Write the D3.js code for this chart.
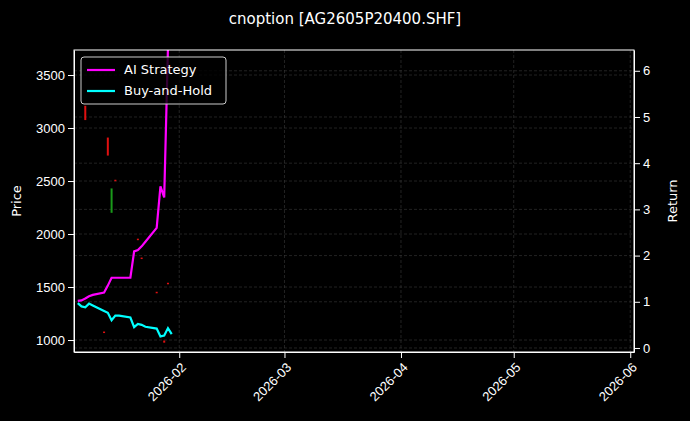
<!DOCTYPE html>
<html><head><meta charset="utf-8">
<script src="https://cdn.jsdelivr.net/npm/d3@7"></script>
<style>body{margin:0;background:#000}svg{font-family:"DejaVu Sans",sans-serif}</style>
</head><body><svg id="chart" width="690" height="421"></svg>
<script>
// datos
const days = ["2026-01-05","2026-01-06","2026-01-07","2026-01-08","2026-01-09","2026-01-12","2026-01-13","2026-01-14","2026-01-15","2026-01-16",
  "2026-01-19","2026-01-20","2026-01-21","2026-01-22","2026-01-23","2026-01-26","2026-01-27","2026-01-28","2026-01-29","2026-01-30"];
const aiReturn = [1.02,1.03,1.07,1.12,1.15,1.20,1.35,1.52,1.52,1.52,1.52,2.09,2.12,2.20,2.30,2.60,3.50,3.26,6.50,8.00];
const bhReturn = [0.97,0.90,0.88,0.96,0.92,0.80,0.76,0.60,0.70,0.70,0.66,0.45,0.52,0.50,0.46,0.42,0.25,0.27,0.43,0.30];
// velas: fecha, apertura, cierre
const candleDates = ["2026-01-07","2026-01-13","2026-01-14","2026-01-12","2026-01-15","2026-01-22","2026-01-21","2026-01-29","2026-01-26","2026-01-28"];
const candleOpen  = [3210,2910,2200,1080,2512,1778,1956,1540,1455,995];
const candleClose = [3075,2740,2430,1070,2505,1770,1950,1535,1450,975];
const priceTicks = [1000,1500,2000,2500,3000,3500];
const returnTicks = [0,1,2,3,4,5,6];
const monthTicks = ["2026-02-01","2026-03-01","2026-04-01","2026-05-01","2026-06-01"];

const parse = d3.timeParse("%Y-%m-%d");
const svg = d3.select("#chart");
const m = {l:74, r:634, t:50, b:352};

const x = d3.scaleTime().domain([parse("2026-01-04"), parse("2026-06-02")]).range([m.l, m.r]);
const yP = d3.scaleLinear().domain([887, 3736]).range([m.b, m.t]);
const yR = d3.scaleLinear().domain([-0.087, 6.45]).range([m.b, m.t]);

// rejilla
const grid = svg.append("g").attr("stroke","#444").attr("stroke-dasharray","3,2").attr("stroke-width",0.5);
monthTicks.forEach(t => grid.append("line").attr("x1",x(parse(t))).attr("x2",x(parse(t))).attr("y1",m.t).attr("y2",m.b));
priceTicks.forEach(t => grid.append("line").attr("x1",m.l).attr("x2",m.r).attr("y1",yP(t)).attr("y2",yP(t)));
returnTicks.forEach(t => grid.append("line").attr("x1",m.l).attr("x2",m.r).attr("y1",yR(t)).attr("y2",yR(t)));

svg.append("clipPath").attr("id","clip").append("rect").attr("x",m.l).attr("y",m.t).attr("width",m.r-m.l).attr("height",m.b-m.t);
const plot = svg.append("g").attr("clip-path","url(#clip)");

// velas
candleDates.forEach((d,i) => {
  const o = candleOpen[i], c = candleClose[i];
  plot.append("rect").attr("x", x(parse(d)) - 1).attr("width", 2)
    .attr("y", yP(Math.max(o,c))).attr("height", Math.max(1.5, Math.abs(yP(o)-yP(c))))
    .attr("fill", c >= o ? "#1a9a1a" : "#e01010");
});

// lineas
const line = vals => d3.line().x((v,i) => x(parse(days[i]))).y(v => yR(v))(vals);
plot.append("path").attr("d", line(aiReturn)).attr("fill","none").attr("stroke","#ff00ff").attr("stroke-width",2.2);
plot.append("path").attr("d", line(bhReturn)).attr("fill","none").attr("stroke","#00ffff").attr("stroke-width",2.2);

// ejes
const style = g => { g.selectAll("path,line").attr("stroke","#fff"); g.selectAll("text").attr("fill","#fff").attr("font-size",13); };
svg.append("g").attr("transform",`translate(${m.l},0)`).call(d3.axisLeft(yP).tickValues(priceTicks).tickSizeOuter(0).tickFormat(d3.format("d"))).call(style);
svg.append("g").attr("transform",`translate(${m.r},0)`).call(d3.axisRight(yR).tickValues(returnTicks).tickSizeOuter(0).tickFormat(d3.format("d"))).call(style);
const xa = svg.append("g").attr("transform",`translate(0,${m.b})`)
  .call(d3.axisBottom(x).tickValues(monthTicks.map(parse)).tickFormat(d3.timeFormat("%Y-%m")).tickSizeOuter(0)).call(style);
xa.selectAll("text").attr("text-anchor","end").attr("y",0).attr("dy","0.35em").attr("transform","translate(4,13) rotate(-45)");
svg.append("rect").attr("x",m.l).attr("y",m.t).attr("width",m.r-m.l).attr("height",m.b-m.t).attr("fill","none").attr("stroke","#fff");

svg.append("text").attr("x",345).attr("y",24).attr("text-anchor","middle").attr("fill","#fff").attr("font-size",15).text("cnoption [AG2605P20400.SHF]");
svg.append("text").attr("transform",`translate(21,${(m.t+m.b)/2}) rotate(-90)`).attr("text-anchor","middle").attr("fill","#fff").attr("font-size",13).text("Price");
svg.append("text").attr("transform",`translate(677,${(m.t+m.b)/2}) rotate(-90)`).attr("text-anchor","middle").attr("fill","#fff").attr("font-size",13).text("Return");

// leyenda
const lg = svg.append("g").attr("transform","translate(81,57)");
lg.append("rect").attr("width",145).attr("height",47).attr("rx",3).attr("fill","#000").attr("fill-opacity",0.8).attr("stroke","#ccc");
[["AI Strategy","#ff00ff"],["Buy-and-Hold","#00ffff"]].forEach(([n,c],i) => {
  lg.append("line").attr("x1",6).attr("x2",34).attr("y1",13+i*21).attr("y2",13+i*21).attr("stroke",c).attr("stroke-width",2.2);
  lg.append("text").attr("x",43).attr("y",17+i*21).attr("fill","#fff").attr("font-size",13).text(n);
});
</script></body></html>
